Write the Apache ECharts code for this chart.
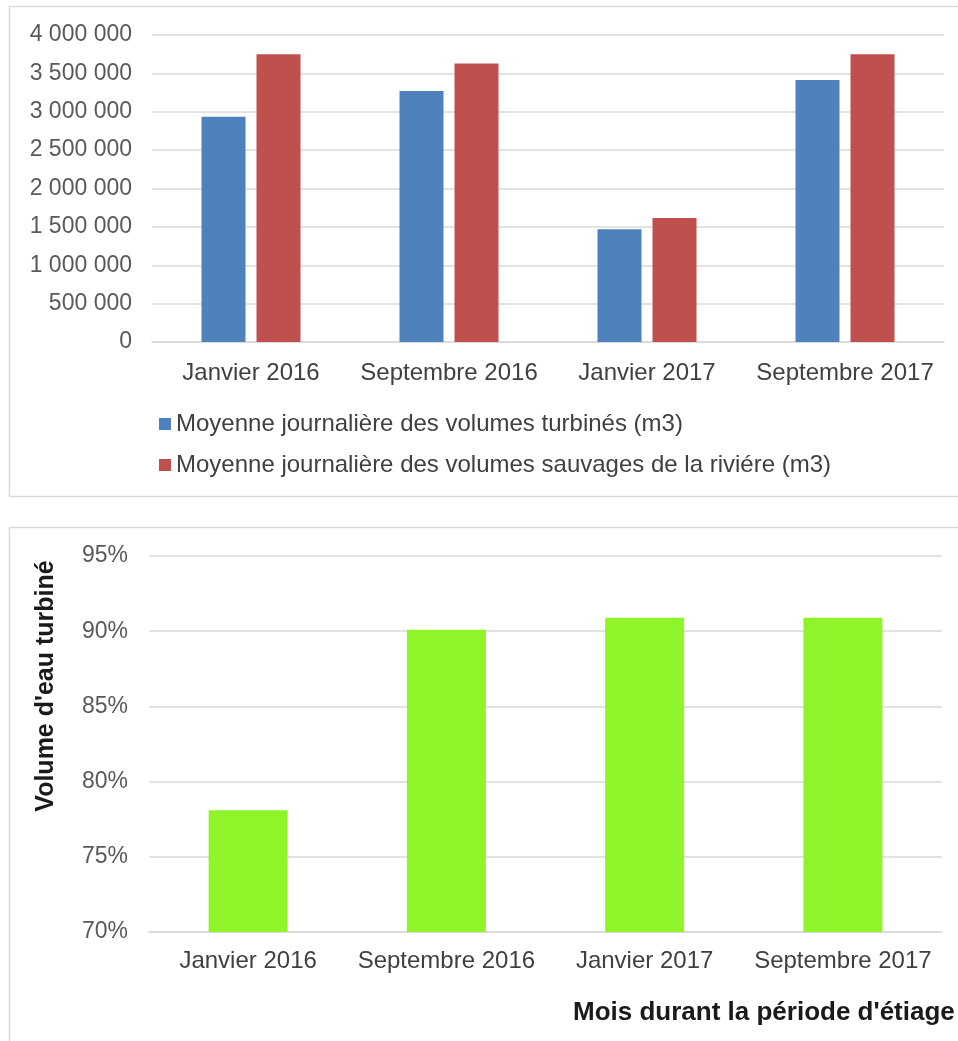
<!DOCTYPE html>
<html>
<head>
<meta charset="utf-8">
<script src="https://cdn.jsdelivr.net/npm/echarts@6/dist/echarts.min.js"></script>
<style>
  html, body { margin: 0; padding: 0; background: #ffffff; }
  #chart { width: 958px; height: 1041px; }
</style>
</head>
<body>
<div id="chart"></div>
<script>
// Months of the low-water period
const months = ['Janvier 2016', 'Septembre 2016', 'Janvier 2017', 'Septembre 2017'];

// Daily average volumes (m3)
const turbinedVolumes = [2935000, 3270000, 1468000, 3414000];
const wildRiverVolumes = [3750000, 3630000, 1616000, 3750000];

// Share of the water that went through the turbines (%)
const turbinedShare = [78.1, 90.1, 90.9, 90.9];

// Series names
const turbinedName = 'Moyenne journalière des volumes turbinés (m3)';
const wildName = 'Moyenne journalière des volumes sauvages de la riviére (m3)';

const FONT = "'Liberation Sans', Arial, sans-serif";
const GRID_COLOR = '#d9d9d9';
const LABEL_COLOR = '#595959';

// Formats 3500000 as "3 500 000"
function spaced(v) {
  return String(Math.round(v)).replace(/\B(?=(\d{3})+(?!\d))/g, ' ');
}

const chart = echarts.init(document.getElementById('chart'), null, { renderer: 'canvas' });

chart.setOption({
  backgroundColor: '#ffffff',
  animation: false,
  textStyle: { fontFamily: FONT },
  graphic: [
    { type: 'rect', silent: true, z: -10,
      shape: { x: 9.5, y: 6.5, width: 960, height: 490 },
      style: { fill: '#ffffff', stroke: GRID_COLOR, lineWidth: 1.5 } },
    { type: 'rect', silent: true, z: -10,
      shape: { x: 9.5, y: 527.5, width: 960, height: 530 },
      style: { fill: '#ffffff', stroke: GRID_COLOR, lineWidth: 1.5 } }
  ],
  title: {
    text: "Mois durant la période d'étiage",
    left: 573,
    top: 1000,
    padding: 0,
    textStyle: { fontFamily: FONT, fontSize: 26, fontWeight: 'bold', color: '#1a1a1a' }
  },
  legend: {
    orient: 'vertical',
    left: 159,
    top: 412,
    padding: 0,
    itemGap: 17,
    itemWidth: 12,
    itemHeight: 12,
    icon: 'rect',
    data: [turbinedName, wildName],
    textStyle: { fontFamily: FONT, fontSize: 24, color: '#404040' }
  },
  grid: [
    { left: 152, top: 35, width: 792, height: 307 },
    { left: 149, top: 556, width: 793, height: 376 }
  ],
  xAxis: [
    {
      type: 'category', gridIndex: 0, data: months,
      axisLine: { lineStyle: { color: GRID_COLOR, width: 1.5 } },
      axisTick: { show: false },
      axisLabel: { fontFamily: FONT, fontSize: 24, color: '#404040', margin: 19, interval: 0 }
    },
    {
      type: 'category', gridIndex: 1, data: months,
      axisLine: { lineStyle: { color: GRID_COLOR, width: 1.5 } },
      axisTick: { show: false },
      axisLabel: { fontFamily: FONT, fontSize: 24, color: '#404040', margin: 17, interval: 0 }
    }
  ],
  yAxis: [
    {
      type: 'value', gridIndex: 0, min: 0, max: 4000000, interval: 500000,
      axisLine: { show: false }, axisTick: { show: false },
      splitLine: { lineStyle: { color: GRID_COLOR, width: 1.5 } },
      axisLabel: { fontFamily: FONT, fontSize: 23, color: LABEL_COLOR, margin: 20, formatter: spaced }
    },
    {
      type: 'value', gridIndex: 1, min: 70, max: 95, interval: 5,
      name: "Volume d'eau turbiné",
      nameLocation: 'middle',
      nameGap: 90,
      nameTextStyle: {
        fontFamily: FONT, fontSize: 25, fontWeight: 'bold', color: '#1a1a1a',
        // lifts the rotated title towards the top of the axis
        padding: [0, 0, 0, 116]
      },
      axisLine: { show: false }, axisTick: { show: false },
      splitLine: { lineStyle: { color: GRID_COLOR, width: 1.5 } },
      axisLabel: { fontFamily: FONT, fontSize: 23, color: LABEL_COLOR, margin: 21, formatter: '{value}%' }
    }
  ],
  series: [
    {
      name: turbinedName, type: 'bar', xAxisIndex: 0, yAxisIndex: 0,
      data: turbinedVolumes, barWidth: 44, barGap: '25%',
      itemStyle: { color: '#4f81bd' }
    },
    {
      name: wildName, type: 'bar', xAxisIndex: 0, yAxisIndex: 0,
      data: wildRiverVolumes, barWidth: 44, barGap: '25%',
      itemStyle: { color: '#c0504d' }
    },
    {
      name: 'Volume turbiné', type: 'bar', xAxisIndex: 1, yAxisIndex: 1,
      data: turbinedShare, barWidth: 79,
      itemStyle: { color: '#8ff52a' }
    }
  ]
});
</script>
</body>
</html>
